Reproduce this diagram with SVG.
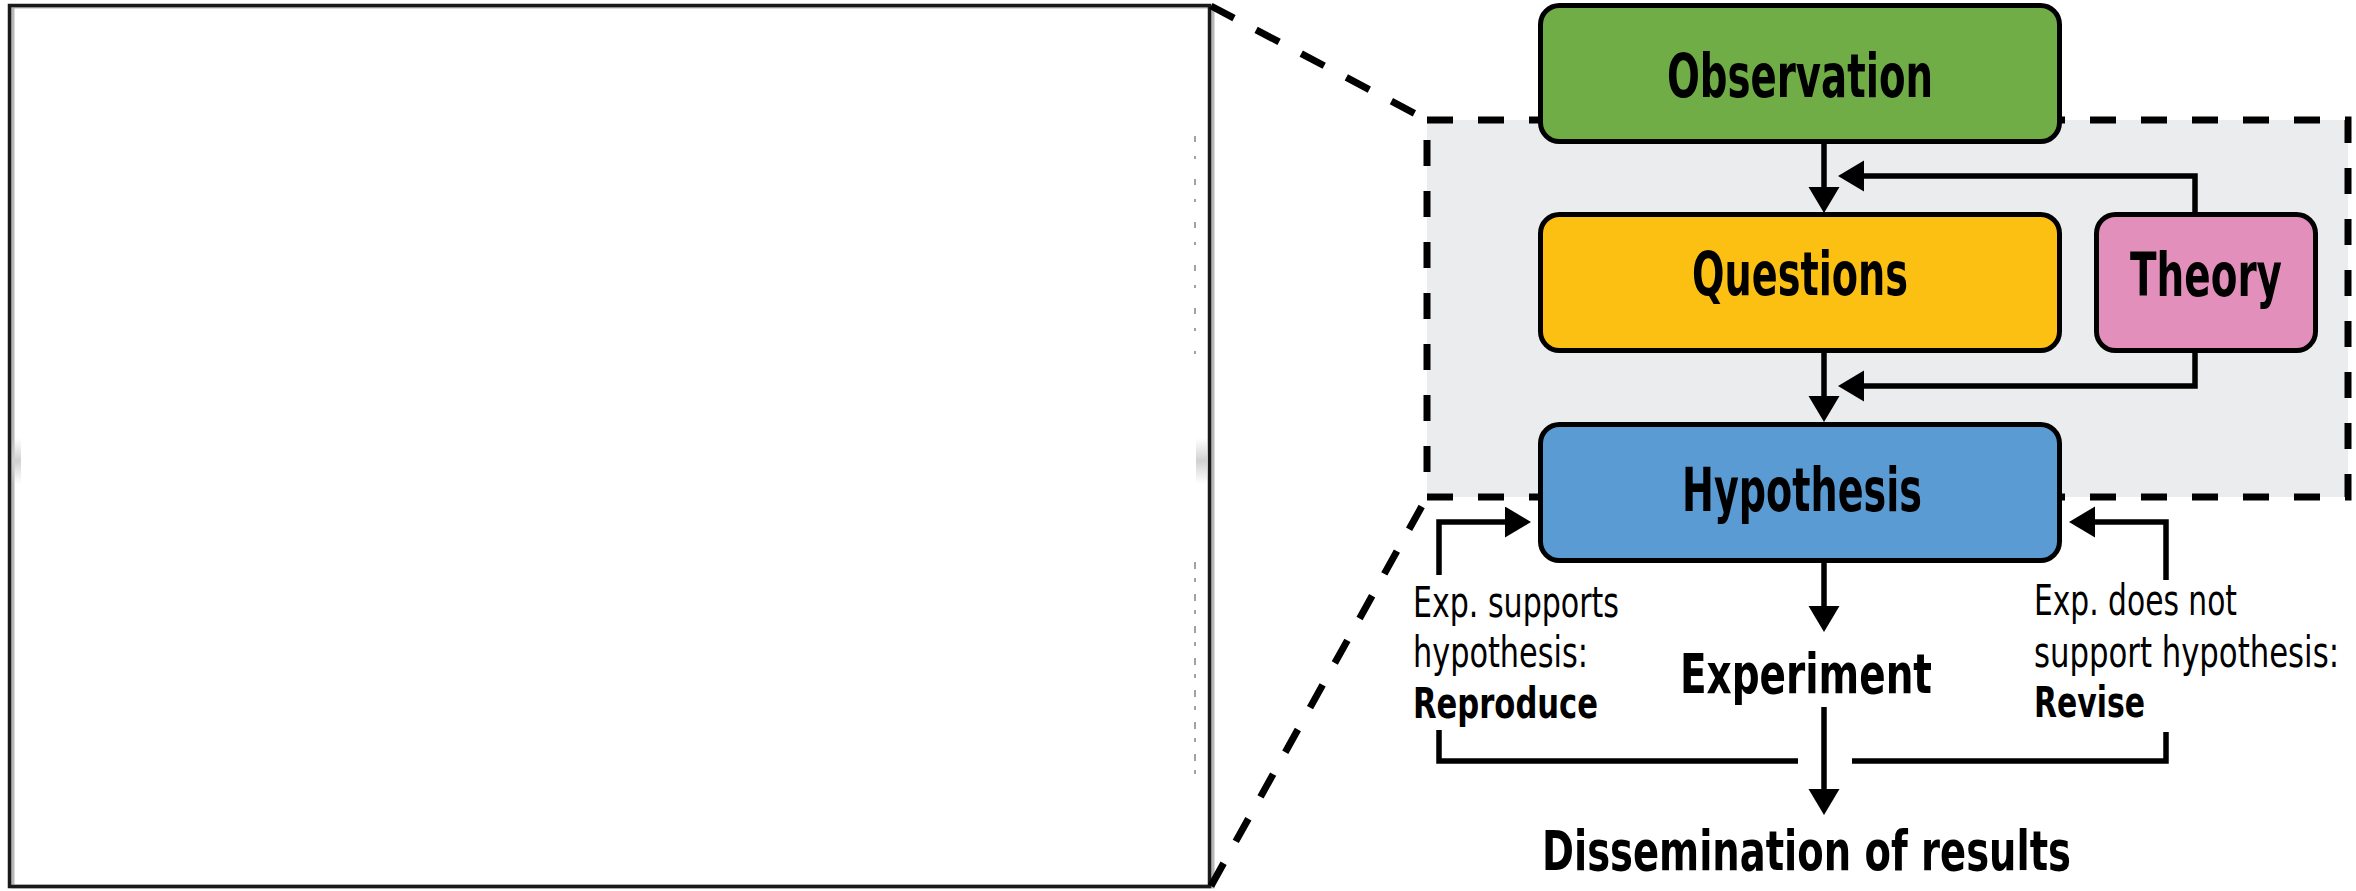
<svg xmlns="http://www.w3.org/2000/svg" width="2356" height="891" viewBox="0 0 2356 891">
  <style>
    .box { stroke: #000; stroke-width: 5; }
    .lbl { font-family: "Liberation Sans Narrow", "DejaVu Sans Condensed", "Liberation Sans", sans-serif; font-weight: bold; fill: #000; }
    .note { font-family: "Liberation Sans Narrow", "DejaVu Sans Condensed", "Liberation Sans", sans-serif; font-size: 42px; fill: #000; }
    .note-b { font-weight: bold; }
    .link { fill: none; stroke: #000; stroke-width: 5.5; }
    .zoom { fill: none; stroke: #000; stroke-width: 7; stroke-dasharray: 26 25; }
  </style>
  <defs>
    <marker id="head" markerUnits="userSpaceOnUse" markerWidth="28" markerHeight="32" refX="0" refY="15.5" orient="auto">
      <path d="M0,0 L26,15.5 L0,31 Z" fill="#000"/>
    </marker>
    <linearGradient id="smudge" x1="0" y1="0" x2="0" y2="1">
      <stop offset="0" stop-color="#d6d6d6" stop-opacity="0"/>
      <stop offset="0.5" stop-color="#d0d0d0" stop-opacity="1"/>
      <stop offset="1" stop-color="#d6d6d6" stop-opacity="0"/>
    </linearGradient>
  </defs>

  <rect width="2356" height="891" fill="#fff"/>

  <!-- empty frame on the left -->
  <g id="frame">
    <rect x="12.5" y="6.5" width="1200" height="880" fill="none" stroke="#b8b8b8" stroke-width="4"/>
    <rect x="9.5" y="5.5" width="1200" height="881" fill="none" stroke="#1a1a1a" stroke-width="3.5"/>
    <line x1="1195" y1="136" x2="1195" y2="354" stroke="#444" stroke-width="1" stroke-dasharray="6 14 3 20"/>
    <line x1="1195" y1="562" x2="1195" y2="782" stroke="#444" stroke-width="1" stroke-dasharray="7 9 4 12"/>
    <rect x="12" y="438" width="9" height="46" fill="url(#smudge)"/>
    <rect x="1196" y="438" width="11" height="46" fill="url(#smudge)"/>
  </g>

  <!-- zoomed region with its guide lines -->
  <g id="zoom-region">
    <rect x="1427" y="120" width="921" height="377" fill="#ebecee"/>
    <path class="zoom" d="M1211,6 L1427,120"/>
    <path class="zoom" d="M1211,886 L1427,497"/>
    <rect class="zoom" x="1427" y="120" width="921" height="377"/>
  </g>

  <g id="connectors">
    <path class="link" d="M1824,144 V187" marker-end="url(#head)"/>
    <path class="link" d="M2195,212 V176 H1864" marker-end="url(#head)"/>
    <path class="link" d="M1824,353 V396" marker-end="url(#head)"/>
    <path class="link" d="M2195,353 V386 H1864" marker-end="url(#head)"/>
    <path class="link" d="M1824,563 V606" marker-end="url(#head)"/>
    <path class="link" d="M1824,707 V789" marker-end="url(#head)"/>
    <path class="link" d="M1798,761 H1439 V730"/>
    <path class="link" d="M1439,575 V522 H1505" marker-end="url(#head)"/>
    <path class="link" d="M1852,761 H2166 V732"/>
    <path class="link" d="M2166,580 V522 H2095" marker-end="url(#head)"/>
  </g>

  <g id="observation">
    <rect class="box" x="1540.5" y="5.5" width="519" height="136" rx="19" fill="#70ad47"/>
    <text class="lbl" x="1667" y="97" font-size="60" textLength="266" lengthAdjust="spacingAndGlyphs">Observation</text>
  </g>

  <g id="questions">
    <rect class="box" x="1540.5" y="214.5" width="519" height="136" rx="19" fill="#fcc013"/>
    <text class="lbl" x="1692" y="295" font-size="60" textLength="216" lengthAdjust="spacingAndGlyphs">Questions</text>
  </g>

  <g id="theory">
    <rect class="box" x="2096.5" y="214.5" width="219" height="136" rx="19" fill="#e290bb"/>
    <text class="lbl" x="2130" y="296" font-size="60" textLength="152" lengthAdjust="spacingAndGlyphs">Theory</text>
  </g>

  <g id="hypothesis">
    <rect class="box" x="1540.5" y="424.5" width="519" height="136" rx="19" fill="#5b9bd3"/>
    <text class="lbl" x="1682" y="511" font-size="60" textLength="240" lengthAdjust="spacingAndGlyphs">Hypothesis</text>
  </g>

  <g id="experiment">
    <text class="lbl" x="1680" y="693" font-size="56" textLength="252" lengthAdjust="spacingAndGlyphs">Experiment</text>
  </g>

  <g id="dissemination">
    <text class="lbl" x="1542" y="870" font-size="56" textLength="529" lengthAdjust="spacingAndGlyphs">Dissemination of results</text>
  </g>

  <g id="reproduce-note">
    <text class="note" x="1413" y="617" textLength="206" lengthAdjust="spacingAndGlyphs">Exp. supports</text>
    <text class="note" x="1413" y="667" textLength="175" lengthAdjust="spacingAndGlyphs">hypothesis:</text>
    <text class="note note-b" x="1413" y="718" textLength="185" lengthAdjust="spacingAndGlyphs">Reproduce</text>
  </g>

  <g id="revise-note">
    <text class="note" x="2034" y="615" textLength="203" lengthAdjust="spacingAndGlyphs">Exp. does not</text>
    <text class="note" x="2034" y="667" textLength="305" lengthAdjust="spacingAndGlyphs">support hypothesis:</text>
    <text class="note note-b" x="2034" y="717" textLength="111" lengthAdjust="spacingAndGlyphs">Revise</text>
  </g>
</svg>
